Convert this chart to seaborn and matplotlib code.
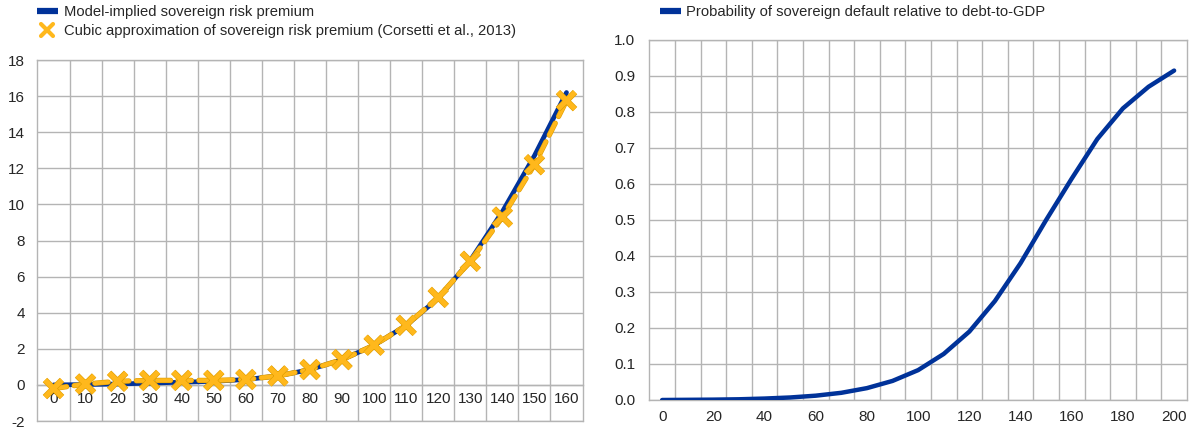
import numpy as np
import pandas as pd
import matplotlib
matplotlib.use("Agg")
import matplotlib.pyplot as plt
from matplotlib.lines import Line2D
from matplotlib.markers import MarkerStyle
from matplotlib.ticker import FixedLocator, FormatStrFormatter
import matplotlib.patheffects as pe
import seaborn as sns

sns.set_theme(style="white")
plt.rcParams["font.family"] = ["Liberation Sans", "DejaVu Sans"]
plt.rcParams["font.size"] = 10
plt.rcParams["axes.unicode_minus"] = False

# Left panel: sovereign risk premium against debt-to-GDP
debt_left = [0, 10, 20, 30, 40, 50, 60, 70, 80, 90, 100, 110, 120, 130, 140, 150, 160]
model_premium = [0.0, 0.02, 0.05, 0.1, 0.15, 0.2, 0.3, 0.5, 0.85, 1.4, 2.2, 3.3,
                 4.8, 6.9, 9.6, 12.7, 16.2]
cubic_premium = [-0.2, 0.05, 0.2, 0.25, 0.25, 0.25, 0.3, 0.5, 0.85, 1.4, 2.2, 3.3,
                 4.85, 6.85, 9.3, 12.2, 15.75]

# Right panel: default probability against debt-to-GDP
debt_right = [0, 10, 20, 30, 40, 50, 60, 70, 80, 90, 100, 110, 120, 130, 140, 150,
              160, 170, 180, 190, 200]
default_prob = [0.0, 0.0005, 0.001, 0.002, 0.004, 0.007, 0.012, 0.02, 0.033, 0.053,
                0.083, 0.128, 0.19, 0.275, 0.38, 0.5, 0.615, 0.725, 0.81, 0.87, 0.915]

label_model = "Model-implied sovereign risk premium"
label_cubic = "Cubic approximation of sovereign risk premium (Corsetti et al., 2013)"
label_prob = "Probability of sovereign default relative to debt-to-GDP"

BLUE = "#003299"
YELLOW = "#FFB81C"
YELLOW_EDGE = "#E09E00"
GRID = "#b4b4b4"

left_df = pd.DataFrame({
    "pos": np.arange(len(debt_left)),
    "model": model_premium,
    "cubic": cubic_premium,
})
right_df = pd.DataFrame({
    "pos": np.arange(len(debt_right)),
    "prob": default_prob,
})

fig = plt.figure(figsize=(11.93, 4.29), dpi=100)
ax1 = fig.add_axes([0.0314, 0.0186, 0.4569, 0.8415])
ax2 = fig.add_axes([0.5443, 0.0676, 0.4506, 0.8392])


def category_grid(ax, n, ymin, ymax, ystep):
    ax.set_xlim(-0.5, n - 0.5)
    ax.set_ylim(ymin, ymax)
    ax.xaxis.set_minor_locator(FixedLocator(np.arange(0.5, n - 1, 1.0)))
    ax.set_yticks(np.arange(ymin, ymax + ystep / 2, ystep))
    ax.grid(True, which="minor", axis="x", color=GRID, lw=1.0)
    ax.grid(True, which="major", axis="y", color=GRID, lw=1.0)
    ax.grid(False, which="major", axis="x")
    for s in ax.spines.values():
        s.set_visible(True)
        s.set_color(GRID)
        s.set_linewidth(1.0)
    ax.tick_params(which="both", length=0)
    ax.set_xlabel("")
    ax.set_ylabel("")
    ax.set_axisbelow(True)


# ---- left panel ----
sns.lineplot(data=left_df, x="pos", y="model", ax=ax1, color=BLUE, lw=3.4,
             solid_capstyle="round", zorder=3)
sns.lineplot(data=left_df, x="pos", y="cubic", ax=ax1, color=YELLOW, lw=3.0,
             zorder=4)
cubic_line = ax1.lines[-1]
cubic_line.set_dashes([3.2, 1.8])
cubic_line.set_dash_capstyle("round")
cubic_line.set_path_effects([pe.Stroke(linewidth=3.8, foreground=YELLOW_EDGE), pe.Normal()])
sns.scatterplot(data=left_df, x="pos", y="cubic", ax=ax1,
                marker=MarkerStyle("x", capstyle="round"), s=150,
                color=YELLOW, linewidth=3.6, zorder=5)
ax1.collections[-1].set_path_effects([pe.Stroke(linewidth=4.5, foreground=YELLOW_EDGE), pe.Normal()])
category_grid(ax1, len(debt_left), -2, 18, 2)
# category labels sit along the zero line; a separate rule closes the frame at -2
ax1.spines["bottom"].set_position(("data", 0))
ax1.axhline(-2, color=GRID, lw=1.0, clip_on=False, zorder=0.5)
ax1.set_xticks(left_df["pos"])
ax1.set_xticklabels([str(v) for v in debt_left])
ax1.tick_params(axis="x", pad=5)
ax1.tick_params(axis="y", pad=9)
ax1.set_xlabel("")
ax1.set_ylabel("")

handles1 = [
    Line2D([], [], color=BLUE, lw=4.5, solid_capstyle="butt"),
    Line2D([], [], color=YELLOW, marker=MarkerStyle("x", capstyle="round"),
           markersize=8, lw=0, markeredgewidth=3.0),
]
fig.legend(handles1, [label_model, label_cubic], loc="upper left",
           bbox_to_anchor=(0.025, 1.006), frameon=False, borderpad=0,
           handlelength=1.4, handletextpad=0.4, labelspacing=0.35,
           fontsize=10.6)

# ---- right panel ----
sns.lineplot(data=right_df, x="pos", y="prob", ax=ax2, color=BLUE, lw=3.2,
             solid_capstyle="round", zorder=3)
category_grid(ax2, len(debt_right), 0.0, 1.0, 0.1)
ax2.yaxis.set_major_formatter(FormatStrFormatter("%.1f"))
ax2.set_xticks(right_df["pos"][::2])
ax2.set_xticklabels([str(v) for v in debt_right[::2]])
ax2.tick_params(axis="x", pad=7)
ax2.tick_params(axis="y", pad=10)
ax2.set_xlabel("")
ax2.set_ylabel("")

handles2 = [Line2D([], [], color=BLUE, lw=4.5, solid_capstyle="butt")]
fig.legend(handles2, [label_prob], loc="upper left",
           bbox_to_anchor=(0.547, 1.006), frameon=False, borderpad=0,
           handlelength=1.4, handletextpad=0.4, fontsize=10.6)

fig.savefig("out.png", dpi=100)
